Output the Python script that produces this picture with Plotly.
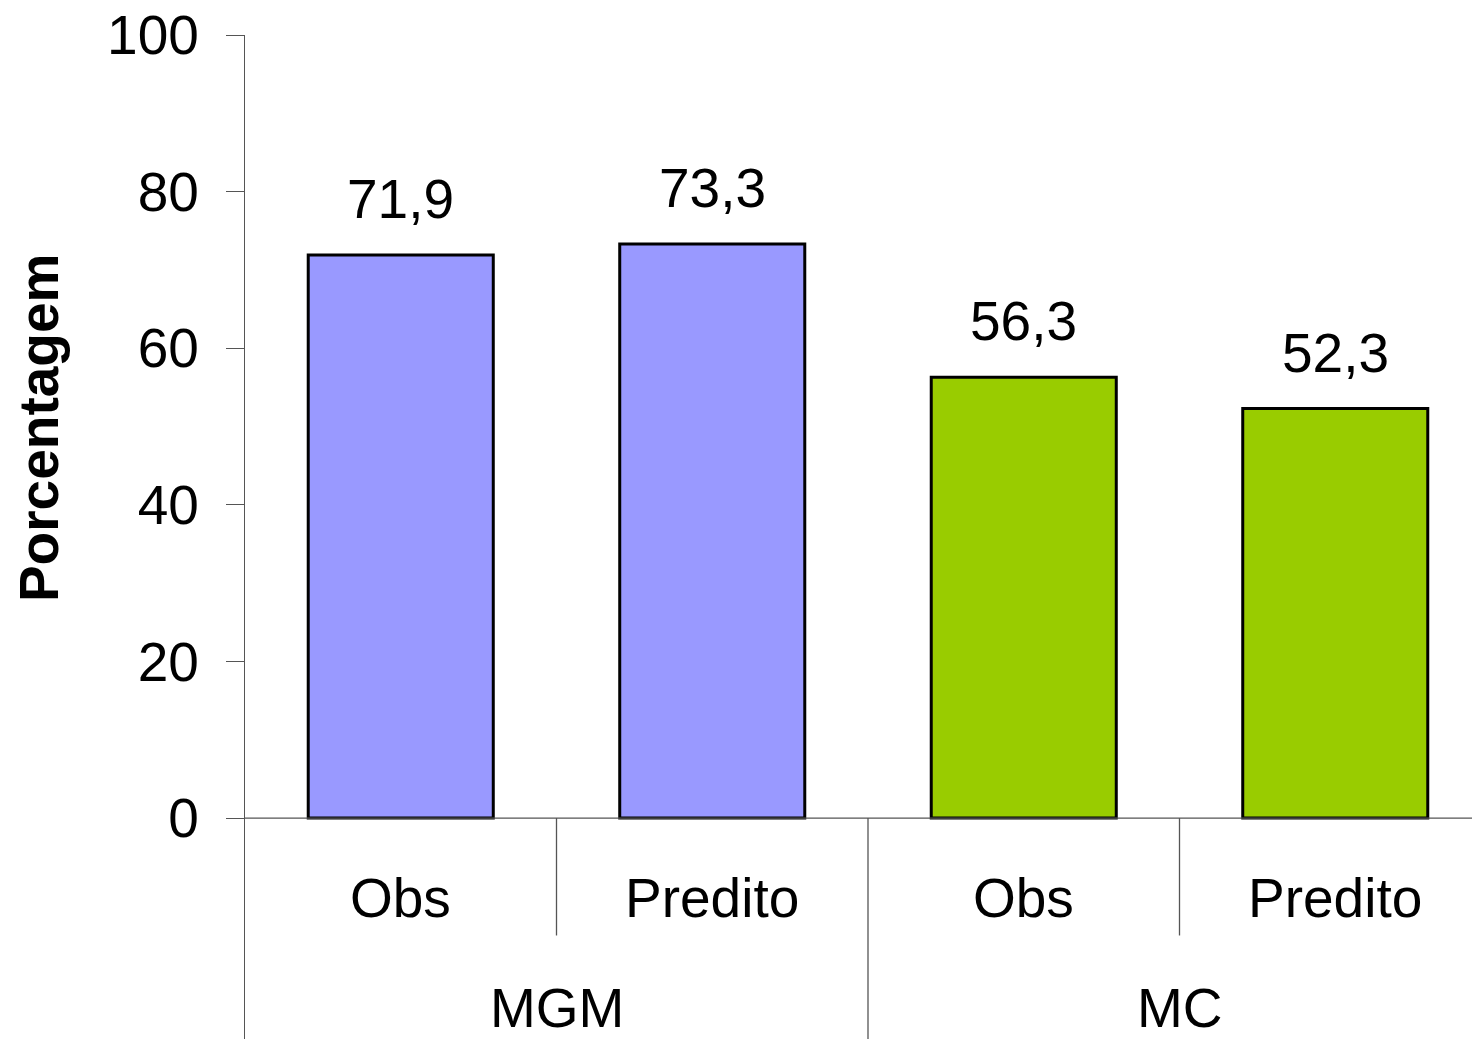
import plotly.graph_objects as go

# Data
groups = ["MGM", "MGM", "MC", "MC"]
conditions = ["Obs", "Predito", "Obs", "Predito"]
values = [71.9, 73.3, 56.3, 52.3]
group_names = ["MGM", "MC"]
colors = ["#9999FF", "#9999FF", "#99CC00", "#99CC00"]
y_ticks = [0, 20, 40, 60, 80, 100]

FONT = "Liberation Sans, Arial, sans-serif"
x_pos = list(range(len(values)))

fig = go.Figure()
fig.add_trace(go.Bar(
    x=x_pos,
    y=values,
    width=0.594,
    marker=dict(color=colors, line=dict(color="black", width=3)),
    hoverinfo="skip",
))

annotations = []
# value labels above bars
for xi, v in zip(x_pos, values):
    annotations.append(dict(
        x=xi, y=v, xref="x", yref="y",
        text=f"{v:.1f}".replace(".", ","),
        showarrow=False, yanchor="bottom", yshift=23,
        font=dict(family=FONT, size=55, color="black"),
    ))
# inner category labels
for xi, c in zip(x_pos, conditions):
    annotations.append(dict(
        x=xi, y=-10.2, xref="x", yref="y", text=c,
        showarrow=False, yanchor="middle",
        font=dict(family=FONT, size=55, color="black"),
    ))
# outer group labels
for gi, g in enumerate(group_names):
    annotations.append(dict(
        x=gi * 2 + 0.5, y=-24.3, xref="x", yref="y", text=g,
        showarrow=False, yanchor="middle",
        font=dict(family=FONT, size=55, color="black"),
    ))
# y-axis title
annotations.append(dict(
    x=0, xref="paper", xshift=-206, y=49.8, yref="y",
    text="<b>Porcentagem</b>", textangle=-90, showarrow=False,
    xanchor="center", yanchor="middle",
    font=dict(family=FONT, size=55, color="black"),
))

line_col = "#555555"
shapes = [
    # horizontal axis at zero
    dict(type="line", xref="paper", yref="y", x0=0, x1=1, y0=0, y1=0,
         line=dict(color=line_col, width=1.3)),
]
# separators between conditions within a group
for xs in [0.5, 2.5]:
    shapes.append(dict(type="line", xref="x", yref="y", x0=xs, x1=xs, y0=0, y1=-15,
                       line=dict(color=line_col, width=1.3)))
# separator between groups
shapes.append(dict(type="line", xref="x", yref="y", x0=1.5, x1=1.5, y0=0, y1=-28.3,
                   line=dict(color=line_col, width=1.3)))

fig.update_layout(
    width=1472, height=1039,
    margin=dict(l=245, r=0, t=35, b=0),
    plot_bgcolor="white", paper_bgcolor="white",
    showlegend=False,
    xaxis=dict(range=[-0.5, 3.439], showticklabels=False, showgrid=False,
               zeroline=False, showline=False, ticks=""),
    yaxis=dict(range=[-28.22, 100], tickvals=y_ticks, ticks="outside", ticklen=18,
               tickcolor=line_col, tickwidth=1.3,
               showline=True, linecolor=line_col, linewidth=1.3,
               showgrid=False, zeroline=False, ticklabelstandoff=16,
               tickfont=dict(family=FONT, size=55, color="black")),
    annotations=annotations,
    shapes=shapes,
)

fig.write_html("out.html")
